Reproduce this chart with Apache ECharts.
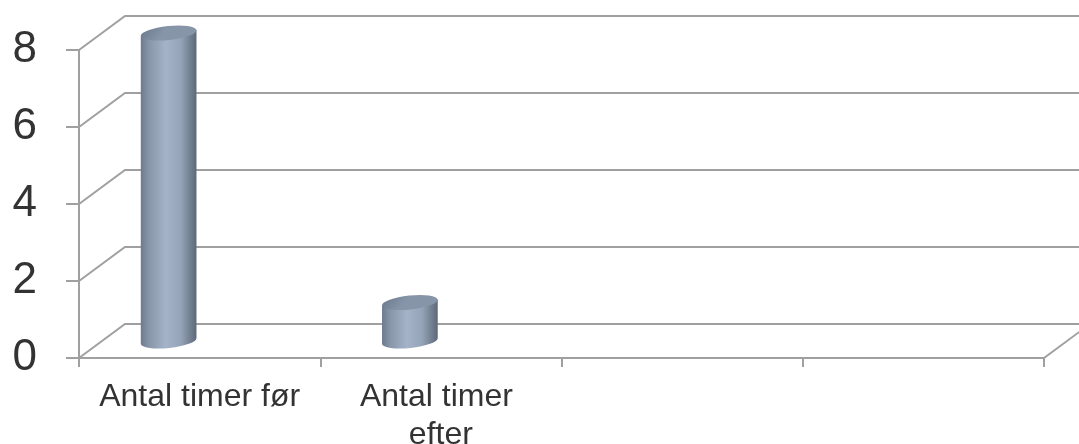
<!DOCTYPE html>
<html>
<head>
<meta charset="utf-8">
<script src="https://cdn.jsdelivr.net/npm/echarts@6/dist/echarts.min.js"></script>
<style>
html,body{margin:0;padding:0;background:#fff;}
#chart{width:1079px;height:444px;}
</style>
</head>
<body>
<div id="chart"></div>
<script>
// ---- data ----
const categories = ['Antal timer før', 'Antal timer efter', '', ''];
const values = [8, 1];
const yTicks = [0, 2, 4, 6, 8];

// ---- style constants (3D look) ----
const DEPTH_DX = 46, DEPTH_DY = -34;   // back wall offset
const BAR_SHIFT_X = -31;              // perspective shift of bars
const BAR_RX = 28, BAR_RY = 7, TILT = -6;
const GRID_COLOR = '#a0a0a0';
const TEXT_COLOR = '#333333';

const chart = echarts.init(document.getElementById('chart'), null, {renderer: 'canvas'});

function ends(cx, cy) {
  const t = TILT * Math.PI / 180;
  return {
    l: [cx - BAR_RX * Math.cos(t), cy - BAR_RX * Math.sin(t)],
    r: [cx + BAR_RX * Math.cos(t), cy + BAR_RX * Math.sin(t)]
  };
}

const option = {
  animation: false,
  backgroundColor: '#ffffff',
  grid: {left: 79, right: 35, top: 50, bottom: 86, containLabel: false, outerBoundsMode: 'none'},
  xAxis: {
    type: 'category',
    data: categories,
    boundaryGap: true,
    axisLine: {show: true, lineStyle: {color: GRID_COLOR, width: 2}},
    axisTick: {show: true, length: 9, lineStyle: {color: GRID_COLOR, width: 2}},
    axisLabel: {
      interval: 0,
      fontFamily: 'Liberation Sans, Arial, sans-serif',
      fontSize: 32,
      lineHeight: 38,
      color: TEXT_COLOR,
      margin: 20,
      width: 222,
      overflow: 'break'
    },
    splitLine: {show: false}
  },
  yAxis: {
    type: 'value',
    min: 0, max: 8, interval: 2,
    axisLine: {show: true, lineStyle: {color: GRID_COLOR, width: 2}},
    axisTick: {show: true, length: 13, lineStyle: {color: GRID_COLOR, width: 2}},
    axisLabel: {
      fontFamily: 'Liberation Sans, Arial, sans-serif',
      fontSize: 44,
      color: TEXT_COLOR,
      margin: 42
    },
    splitLine: {show: false}
  },
  series: [
    {
      type: 'custom',
      name: 'frame',
      clip: false,
      silent: true,
      z: 1,
      data: yTicks.map(v => [0, v]),
      renderItem: function (params, api) {
        const cs = params.coordSys;
        const v = api.value(1);
        const y = api.coord([0, v])[1];
        const left = cs.x, right = cs.x + cs.width;
        const children = [{
          type: 'polyline',
          shape: {points: [[left, y], [left + DEPTH_DX, y + DEPTH_DY], [right + 300, y + DEPTH_DY]]},
          style: {stroke: GRID_COLOR, lineWidth: 2, fill: null}
        }];
        if (v === 0) {
          children.push({
            type: 'line',
            shape: {x1: right, y1: y, x2: right + DEPTH_DX, y2: y + DEPTH_DY},
            style: {stroke: GRID_COLOR, lineWidth: 2}
          });
        }
        return {type: 'group', children: children};
      }
    },
    {
      type: 'custom',
      name: 'bars',
      clip: false,
      z: 5,
      data: values.map((v, i) => [i, v]),
      renderItem: function (params, api) {
        const i = api.value(0), v = api.value(1);
        const p0 = api.coord([i, 0]);
        const p1 = api.coord([i, v]);
        const cx = p0[0] + BAR_SHIFT_X;
        const yb = p0[1] + DEPTH_DY / 2;
        const yt = p1[1] + DEPTH_DY / 2;
        const b = ends(cx, yb), t = ends(cx, yt);
        const bodyPath =
          'M' + t.l[0] + ' ' + t.l[1] +
          ' L' + b.l[0] + ' ' + b.l[1] +
          ' A' + BAR_RX + ' ' + BAR_RY + ' ' + TILT + ' 0 0 ' + b.r[0] + ' ' + b.r[1] +
          ' L' + t.r[0] + ' ' + t.r[1] + ' Z';
        const topPath =
          'M' + t.l[0] + ' ' + t.l[1] +
          ' A' + BAR_RX + ' ' + BAR_RY + ' ' + TILT + ' 0 1 ' + t.r[0] + ' ' + t.r[1] +
          ' A' + BAR_RX + ' ' + BAR_RY + ' ' + TILT + ' 0 1 ' + t.l[0] + ' ' + t.l[1] + ' Z';
        return {
          type: 'group',
          children: [
            {
              type: 'path',
              shape: {pathData: bodyPath},
              style: {
                fill: {
                  type: 'linear', x: 0, y: 0, x2: 1, y2: 0,
                  colorStops: [
                    {offset: 0, color: '#6d7a8d'},
                    {offset: 0.15, color: '#8896aa'},
                    {offset: 0.45, color: '#a4b3c7'},
                    {offset: 0.72, color: '#94a3b7'},
                    {offset: 1, color: '#5c6878'}
                  ]
                },
                stroke: null
              }
            },
            {
              type: 'path',
              shape: {pathData: topPath},
              style: {
                fill: {
                  type: 'linear', x: 0, y: 0, x2: 0.3, y2: 1,
                  colorStops: [
                    {offset: 0, color: '#68768a'},
                    {offset: 1, color: '#8795a8'}
                  ]
                },
                stroke: null
              }
            }
          ]
        };
      }
    }
  ]
};

chart.setOption(option);
</script>
</body>
</html>
